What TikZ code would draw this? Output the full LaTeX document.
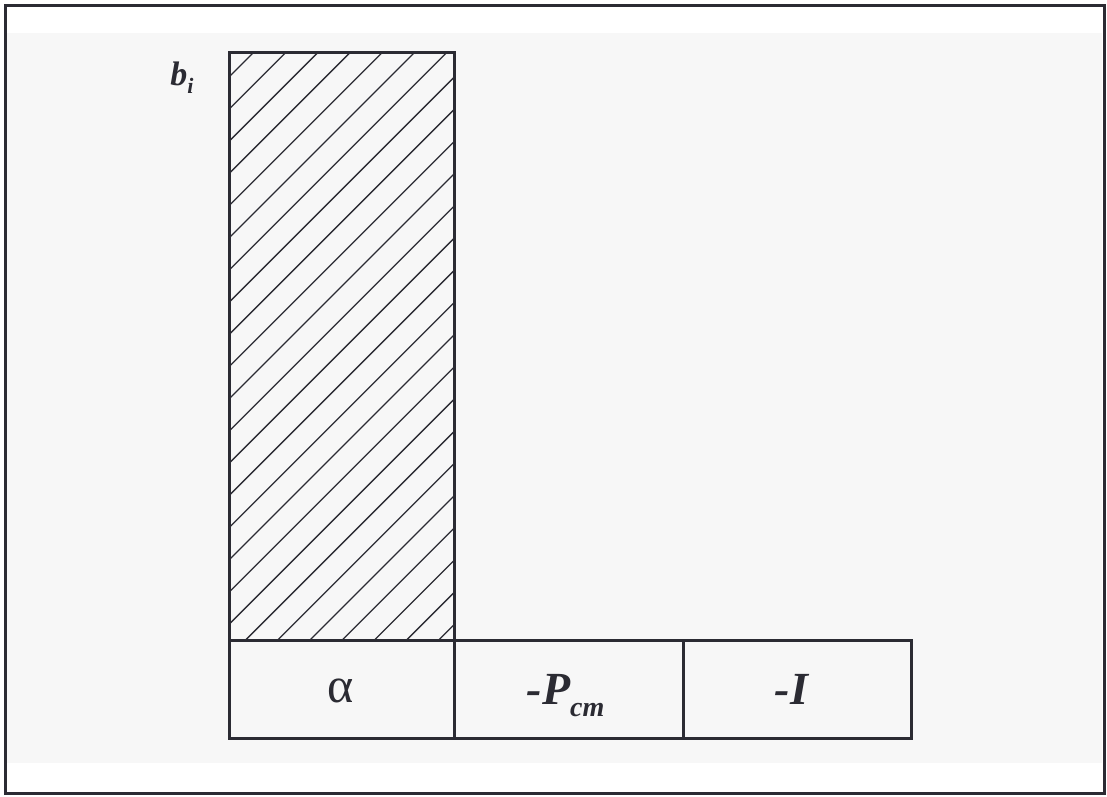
\documentclass[tikz,border=0pt]{standalone}
\usepackage{fontspec}
\setmainfont{Liberation Serif}
\definecolor{ink}{HTML}{2B2B33}
\definecolor{paper}{HTML}{F7F7F7}
\begin{document}
\begin{tikzpicture}[x=1pt,y=-1pt,
  frame/.style={draw=ink, line width=3pt},
  cell/.style={draw=ink, line width=3pt, minimum width=#1, minimum height=98pt, inner sep=0pt, outer sep=0pt},
  tallbox/.style={draw=ink, line width=3pt, minimum width=225pt, minimum height=588pt, inner sep=0pt, outer sep=0pt},
  hatch/.style={draw=ink, line width=1.3pt},
  lab/.style={anchor=base, inner sep=0pt, text=ink}]
\useasboundingbox (0,0) rectangle (1107,796);
\fill[white] (0,0) rectangle (1107,796);
\fill[paper] (5,33) rectangle (1102,763);
\draw[frame] (5.5,5.5) rectangle (1104.5,793.5);
% tall hatched box
\node[tallbox] (tall) at (341.5,346) {};
\begin{scope}
  \clip (tall.south west) rectangle (tall.north east);
  \foreach \k in {0,...,24} {
    \pgfmathsetmacro\cc{306+32.2*\k}
    \draw[hatch] (\cc-700,700) -- (\cc,0);
  }
\end{scope}
\draw[frame] (tall.south west) rectangle (tall.north east);
% bottom row
\node[cell=225pt] (c1) at (341.5,689) {};
\node[cell=229pt] (c2) at (568.5,689) {};
\node[cell=228pt] (c3) at (797,689) {};
% labels
\node[lab] (bi) at (182,85) {\fontsize{34}{34}\selectfont\bfseries\itshape b\raisebox{-8pt}{\fontsize{22}{22}\selectfont i}};
\node[lab] (alpha) at (341,702) {\fontsize{50}{50}\selectfont α};
\node[lab] (pcm) at (565.5,704) {\fontsize{46}{46}\selectfont\bfseries\itshape -P\raisebox{-12pt}{\fontsize{28}{28}\selectfont cm}};
\node[lab] (mi) at (791.5,704) {\fontsize{46}{46}\selectfont\bfseries\itshape -I};
\end{tikzpicture}
\end{document}
